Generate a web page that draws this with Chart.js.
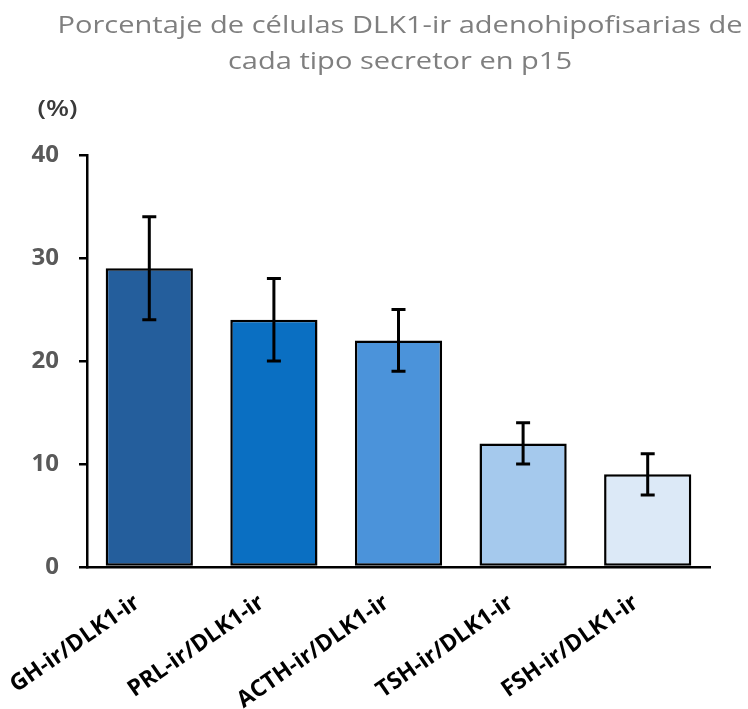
<!DOCTYPE html>
<html>
<head>
<meta charset="utf-8">
<script src="https://cdn.jsdelivr.net/npm/chart.js@4"></script>
<style>
    body { margin: 0; background: #ffffff; }
    #wrap { width: 748px; height: 709px; }
</style>
</head>
<body>
<div id="wrap"><canvas id="barChart" width="748" height="709"></canvas></div>
<script>
// Data
const categories = ['GH-ir/DLK1-ir', 'PRL-ir/DLK1-ir', 'ACTH-ir/DLK1-ir', 'TSH-ir/DLK1-ir', 'FSH-ir/DLK1-ir'];
const percentages = [29, 24, 22, 12, 9];
const errorLow = [24, 20, 19, 10, 7];
const errorHigh = [34, 28, 25, 14, 11];
const barColors = ['#245e9c', '#0a6fc2', '#4b93da', '#a5c9ed', '#dce9f7'];
const yTicks = [0, 10, 20, 30, 40];
const titleLines = ['Porcentaje de células DLK1-ir adenohipofisarias de', 'cada tipo secretor en p15'];
const unitLabel = '(%)';

const FONT = '"Open Sans", "Noto Sans", sans-serif';

// the reference text is a bit wider than Open Sans, so stretch it horizontally
function drawWide(ctx, text, cx, y, stretch) {
    ctx.save();
    ctx.translate(cx, y);
    ctx.scale(stretch, 1);
    ctx.fillText(text, 0, 0);
    ctx.restore();
}

// Error bars drawn with the y scale
const errorBars = {
    id: 'errorBars',
    afterDatasetsDraw(chart) {
        const ctx = chart.ctx;
        const yScale = chart.scales.y;
        const meta = chart.getDatasetMeta(0);
        ctx.save();
        ctx.strokeStyle = '#000000';
        ctx.lineWidth = 3;
        meta.data.forEach((bar, i) => {
            const x = bar.x;
            const yHi = yScale.getPixelForValue(errorHigh[i]);
            const yLo = yScale.getPixelForValue(errorLow[i]);
            ctx.beginPath();
            ctx.moveTo(x, yHi);
            ctx.lineTo(x, yLo);
            ctx.moveTo(x - 7, yHi);
            ctx.lineTo(x + 7, yHi);
            ctx.moveTo(x - 7, yLo);
            ctx.lineTo(x + 7, yLo);
            ctx.stroke();
        });
        ctx.restore();
    }
};

// Title and unit label
const headerText = {
    id: 'headerText',
    afterDraw(chart) {
        const ctx = chart.ctx;
        ctx.save();
        ctx.textAlign = 'center';
        ctx.textBaseline = 'alphabetic';
        ctx.fillStyle = '#7f7f7f';
        ctx.font = '24px ' + FONT;
        const w = ctx.measureText(titleLines[0]).width;
        const stretch = 685 / w;
        drawWide(ctx, titleLines[0], 400, 33, stretch);
        drawWide(ctx, titleLines[1], 400, 69, stretch);

        ctx.fillStyle = '#3a3a3a';
        ctx.font = '600 21px ' + FONT;
        const uw = ctx.measureText(unitLabel).width;
        drawWide(ctx, unitLabel, 57.5, 116, 40 / uw);
        ctx.restore();
    }
};

new Chart(document.getElementById('barChart'), {
    type: 'bar',
    data: {
        labels: categories,
        datasets: [{
            data: percentages,
            backgroundColor: barColors,
            borderColor: '#000000',
            borderWidth: 2.5,
            borderSkipped: false,
            barPercentage: 0.7,
            categoryPercentage: 1.0
        }]
    },
    options: {
        responsive: false,
        animation: false,
        layout: { padding: { top: 155, left: 0, right: 38, bottom: 0 } },
        plugins: {
            legend: { display: false },
            tooltip: { enabled: false },
            title: { display: false }
        },
        scales: {
            x: {
                grid: { display: false },
                border: { display: true, color: '#000000', width: 2.5 },
                ticks: {
                    color: '#000000',
                    font: { family: FONT, size: 23, weight: 'bold' },
                    maxRotation: 35,
                    minRotation: 35,
                    padding: 14,
                    labelOffset: -12,
                    autoSkip: false
                },
                afterFit(scale) { scale.height = 142; }
            },
            y: {
                min: 0,
                max: 40,
                afterBuildTicks(scale) { scale.ticks = yTicks.map(v => ({ value: v })); },
                grid: {
                    drawOnChartArea: false,
                    drawTicks: true,
                    tickLength: 8,
                    color: '#000000',
                    lineWidth: 2.5
                },
                border: { display: true, color: '#000000', width: 2.5 },
                ticks: {
                    color: '#595959',
                    font: { family: FONT, size: 24, weight: 'bold' },
                    padding: 20
                },
                afterFit(scale) { scale.width = 87; }
            }
        }
    },
    plugins: [errorBars, headerText]
});
</script>
</body>
</html>
